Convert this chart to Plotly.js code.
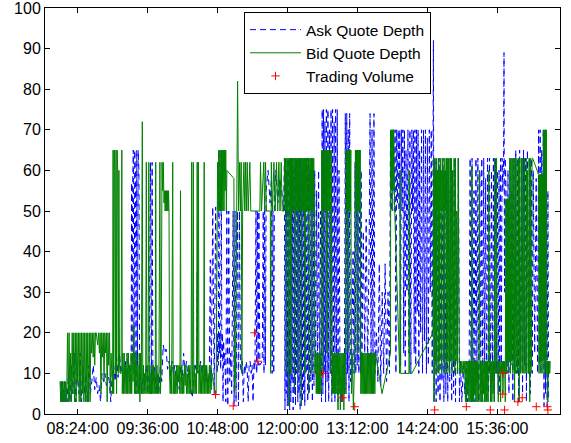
<!DOCTYPE html>
<html>
<head>
<meta charset="utf-8">
<script src="https://cdn.plot.ly/plotly-3.0.1.min.js"></script>
<style>html,body{margin:0;padding:0;background:#fff;}#chart{width:571px;height:443px;}</style>
</head>
<body>
<div id="chart"></div>
<script>
// time in minutes after midnight, depth values
var tickTimes = [504, 576, 648, 720, 792, 864, 936];
var tickLabels = ['08:24:00', '09:36:00', '10:48:00', '12:00:00', '13:12:00', '14:24:00', '15:36:00'];
var depthTicks = [0, 10, 20, 30, 40, 50, 60, 70, 80, 90, 100];

var askTime = [
486.5,487.2,487.9,488.6,489.3,490,490.7,491.4,492.1,
493,494.5,496,497.5,499,500.5,502,503.5,505,506.5,508,509.5,511,512.5,514,515.5,517,
518.5,520,521.5,523,524.5,526,527.5,529,530.5,532,533.5,535,536.5,538,539.5,
541,542.5,544,545.5,547,548.5,550,551.5,553,554.5,556,557.5,559,
559.5,560,560.5,561.2,562,562.7,563.4,564,564.8,565.5,566.2,567,567.8,
568.5,570,571.5,573,574.5,576,577.5,
579,579.8,580.6,581.4,
583,584.5,586,587.5,589,590.5,592,593.5,595,596.5,598,599.5,601,602.5,604,605.5,607,608.5,610,611.5,613,614.5,616,617.5,619,620.5,622,623.5,625,626.5,627,627.5,629,
630.5,632,633.5,635,636.5,638,639.5,640.5,641.5,643,644.5,646,647.5,
648.2,648.8,649.4,650,650.6,651.2,651.8,652.4,653,653.6,654.2,654.8,
655.5,656.5,657.5,658.5,659.5,660.5,661.5,662.5,664,665,666,667,668.5,669.5,670.5,671.5,
672.5,673.5,674.5,675.5,676.5,677.5,678.5,679.5,680.5,681.5,682.5,683.5,684.5,685.5,686.5,
687.5,688.3,689,689.8,690.5,691.5,694,695,695.8,696.5,697.3,
698,700,702,703.5,704.2,705,705.8,706.5,708,710,712,714,716,
716.8,717.4,718,718.6,719.2,719.8,720.4,721,721.6,722.2,722.8,723.4,724,724.6,725.2,725.8,726.4,727,727.6,728.2,728.8,729.4,730,730.6,731.2,731.8,732.4,733,733.6,734.2,734.8,735.4,736,736.6,737.2,737.8,738.4,739.2,740,740.8,741.6,742.4,743.2,744,744.8,745.6,746.4,
747.2,748,749,750,751,752,753,754,
755,755.7,756.4,757.1,757.8,758.5,759.2,760,760.8,761.6,762.4,763.2,764,764.8,765.6,766.4,767.2,768,768.8,769.6,770.4,771.2,772,773,
774,775.5,777,778.5,
779.5,780.3,781,781.8,782.5,783.3,784,784.8,
786,787.5,788.5,
789.5,790.3,791,791.8,792.6,793.4,794.2,795,795.8,796.6,
798,799.5,801,802.5,804,
805,806,807,808,809,810,
811.5,813,814.5,816,817.5,819,820.5,822,823.5,
825,826,826.8,827.6,828.4,829.2,830,830.8,831.6,832.4,833.2,834,834.8,835.6,836.4,837.2,838,838.8,839.6,
840.4,841.2,842,843,844,845,846,847,848,848.8,849.6,850.4,851.2,852,852.8,853.6,854.4,855.2,856,857,858,859,860,861,862,863,864,865,866,867,868,
869,870.2,871,
872,873,874,875,876,877,878,879,880,881,882,883,884,885,886,887,888,889,890,891,892,893,894,895,896,897,
898,899.5,901,902.5,904,905.5,907,
908,909,910,911,912,913,914,915,916,917,918,919,920,921,922,923,924,925,926,927,928,929,930,931,932,933,934,935,936,937,937.8,
938.5,939.3,940.1,940.9,941.7,942.5,942.9,943.4,944.2,
945,946,947,948,949,950,951,952,953,954,
955,956,957,958,959,960,961,962,963,964,965,966,967,968,969,970,971,972,
973,974.5,976,977.5,
978.5,979.3,980.1,980.9,981.7,982.5,983.3,
984.1,984.9,985.7,986.5,987.3,988.1,988.8
];
var askDepth = [
8,3,8,3,6,3,8,3,5,
3,10,3,12,5,15,3,10,5,15,3,12,5,10,3,12,5,
8,12,6,9,5,7,3,10,8,10,7,10,8,3,10,
12,8,14,9,15,10,12,7,13,9,15,8,12,
57,15,55,65,10,65,60,5,65,12,65,60,5,
10,5,11,6,12,5,10,
62,5,62,8,
12,6,10,5,12,8,17,15,16,11,13,9,13,10,12,7,10,6,12,8,15,10,13,9,11,6,4,9,12,10,35,12,10,
13,10,12,8,12,6,10,38,8,51,5,51,10,
20,12,65,15,20,11,65,14,20,3,18,12,
15,3,50,2,50,8,15,5,50,2,50,3,50,2,50,12,
10,13,3,12,10,13,11,3,12,13,10,12,3,13,11,
50,10,50,12,50,12,13,50,10,50,12,
55,60,52,58,10,50,10,55,60,52,58,55,50,
63,1,63,5,60,2,63,10,63,1,55,3,63,8,63,1,60,5,63,2,63,10,63,3,58,5,63,1,63,8,63,3,60,5,63,2,63,10,63,3,63,5,60,8,63,3,60,
7,60,10,55,8,60,5,50,
3,75,5,75,10,72,3,75,8,75,3,70,10,75,3,75,5,72,3,75,10,75,3,60,
10,3,12,5,
74,5,74,10,70,3,74,8,
12,40,10,
62,10,65,12,62,10,65,10,60,12,
45,15,48,12,40,
74,10,70,12,74,10,
20,8,37,7,30,10,37,8,30,
10,70,50,70,55,70,50,70,10,70,52,70,50,70,12,70,50,70,15,
70,10,65,30,70,15,70,10,70,50,70,15,70,12,70,25,70,10,65,20,70,10,70,18,70,10,68,12,70,30,70,
10,92,3,
63,3,60,5,63,3,50,8,63,3,60,5,63,3,55,8,63,3,60,5,63,3,50,10,63,3,
13,3,12,5,13,3,12,
63,3,63,5,55,3,63,8,63,3,60,5,63,3,63,10,58,3,63,5,63,3,60,8,63,3,63,10,60,5,60,
5,63,10,63,55,63,89,30,63,
55,10,60,5,63,12,55,3,63,10,
65,10,63,3,65,10,63,5,65,12,63,3,65,10,63,5,63,10,
60,15,58,10,
70,12,70,10,65,15,70,
2,63,5,60,2,55,3
];

var bidTime = [
485.8,486.5,487.2,487.9,488.6,489.3,490,490.7,491.4,492.1,492.8,
493.5,494.3,495.1,495.9,496.7,497.5,498.3,499.1,499.9,500.7,501.5,502.3,503.1,503.9,504.7,505.5,506.3,507.1,507.9,508.7,509.5,510.3,511.1,511.9,512.7,513.5,514.3,515.1,515.9,516.7,517.5,
518.3,519.1,519.9,520.7,521.5,522.3,523.1,524.5,525.5,526.3,527.1,527.9,528.7,529.5,530.3,531.1,531.9,532.7,533.5,534.3,535.1,535.9,536.7,537.5,538.3,539.1,539.9,
540.4,541,541.6,542.2,542.8,543.4,544,544.6,545.2,545.8,546.4,547,547.6,548.6,549.4,549.9,
550.5,551.2,551.9,552.6,553.3,554,554.7,555.4,556.1,556.8,557.5,558.2,558.9,559.6,560.3,561,561.7,562.4,563.1,563.8,564.5,565.2,565.9,566.6,567.3,568,568.7,569.4,
570.5,571,571.6,572.2,572.8,573.4,574,574.6,575.2,575.8,576.4,577.2,577.7,578.3,578.9,579.5,580.1,580.7,581.3,582,582.6,583.2,583.8,584.3,584.9,585.6,586.2,586.9,587.5,588.6,589.2,589.9,590.8,591.4,592.1,592.8,593.5,594,594.5,595,595.5,596,596.5,597,597.5,598,598.5,599.2,600,600.7,601.8,602.3,
603,603.6,604.3,605,605.7,606.4,607.1,607.8,608.5,609.2,609.8,610.4,611.1,611.8,612.5,613.2,613.9,614.6,615.3,616,616.7,617.4,618.1,618.8,619.5,
620.2,620.8,621.3,621.8,622.4,623,623.5,624.2,624.9,625.6,626.3,627,627.5,628.3,628.8,629.5,630.2,630.9,631.6,632.3,633,633.7,634.2,634.7,635.4,636.1,
636.8,637.5,638.2,638.9,639.6,640.3,641,641.7,642.4,643.5,645.5,646.5,647.4,648,648.6,649.2,649.8,650.4,651,651.6,652.2,652.8,653.4,654,654.6,655.2,655.8,656.4,657,657.6,664.8,665.4,666.5,668.6,669.6,
670.7,671.5,672.3,673,673.8,675.1,676,676.8,677.6,678.5,679.5,681.2,682.2,691.5,692.2,693.2,695.6,696.5,697.4,698.2,702.3,702.6,703,703.3,704.5,706,707.3,708.7,709.9,711.1,712.3,713.5,714.5,716.3,
717,717.6,718.2,718.8,719.4,720,720.6,721.2,721.8,722.4,723,723.6,724.2,724.8,725.4,726,726.6,727.2,727.8,728.4,729,729.6,730.2,730.8,731.4,732,732.6,733.2,733.8,734.4,735,735.6,736.2,736.8,737.4,738,738.6,739.2,739.8,740.4,741,741.6,742.2,742.8,743.4,744,744.6,745.2,745.8,746.4,747,747.6,
748.3,749,749.6,750.2,750.8,751.4,752,752.6,753.2,753.8,754.4,
755.2,755.8,756.4,757,757.6,758.2,758.8,759.4,760,760.6,761.2,761.8,762.4,763,763.6,764.2,764.8,765.4,766,
766.6,767.2,767.8,768.4,769,769.6,770.2,770.8,771.4,772,772.6,773.2,773.8,774.4,775,775.6,776.2,776.8,777.4,778,778.6,779.2,779.8,
780.4,781,781.6,782.2,782.8,783.4,784,784.6,785.2,785.8,
786.6,787.8,789.2,
789.9,790.4,790.9,791.4,791.9,792.4,792.9,793.4,793.9,794.4,794.9,
795.5,796.1,796.7,797.3,797.9,798.5,799.1,799.7,800.3,800.9,801.5,802.1,802.7,803.3,803.9,804.5,805.1,805.7,806.3,806.9,807.5,808.1,808.7,809.3,809.9,810.6,
817.3,826,826.3,826.8,827.3,827.8,828.3,828.8,829.3,830.2,835.5,836,836.5,845,845.3,845.8,848,
869.8,870.3,870.8,871.3,871.8,872.3,872.8,873.3,873.8,874.3,874.8,875.3,875.8,876.3,876.8,877.3,877.8,878.3,878.8,879.3,879.8,880.3,880.8,881.3,881.8,882.3,882.8,883.3,883.8,884.5,885.2,885.9,886.6,887.3,888,888.7,889.4,890.1,890.8,891.5,892.2,892.9,893.6,894.3,895,895.7,896.4,
897,897.8,898.6,899.4,900.2,901,901.8,902.6,
903.2,903.8,904.4,905,905.6,906.2,906.8,907.4,908,908.6,909.2,909.8,910.4,911,911.6,912.2,912.8,913.4,914,914.6,915.2,915.8,916.4,917,917.6,918.2,918.8,919.4,920,920.6,921.2,921.8,922.4,923,923.6,924.2,924.8,925.4,926,926.6,927.3,928,928.6,929.2,929.8,930.4,931,931.6,932.2,932.8,933.4,934,934.6,935.2,935.8,936.4,937,937.6,938.2,
938.8,939.4,940,940.6,941.2,941.8,942.4,943,943.6,944.2,
944.8,945.3,945.8,946.3,946.8,947.3,947.8,948.3,
949,949.6,950.2,950.8,951.4,952,952.6,953.2,953.8,954.4,955,955.6,956.2,956.8,957.4,958,958.6,959.2,959.8,960.4,961,961.6,962.2,962.8,963.4,964,964.6,965.2,965.8,966.4,967,967.6,968.2,968.8,969.4,970,970.6,971.2,971.8,972.4,
978.5,979,979.5,980,980.5,981,981.5,982,982.5,983,983.5,984,984.5,985,985.5,986,986.5,987,987.5,988,988.5,989,989.5,990,990.5
];
var bidDepth = [
8,3,8,3,8,3,8,3,8,3,8,
20,3,20,3,15,3,20,5,20,3,20,3,20,8,20,3,20,3,20,5,20,3,20,3,20,3,20,3,20,3,20,
15,20,14,20,12,20,20,17,20,15,20,5,20,14,20,8,20,15,20,3,20,12,20,5,15,8,5,
65,5,65,60,10,65,5,65,60,10,60,12,10,10,65,5,
15,5,15,5,12,5,15,5,15,5,12,5,15,5,15,8,22,5,15,5,15,5,12,5,15,3,15,5,
72,5,12,5,10,5,12,62,5,12,5,62,5,12,5,10,5,12,5,12,5,10,5,62,5,12,5,10,5,62,5,12,62,55,62,52,55,50,55,50,55,50,55,50,55,50,10,5,12,5,62,5,
12,5,10,5,12,5,12,8,12,5,55,5,12,5,10,5,12,7,12,5,10,5,12,5,12,
5,12,62,5,12,62,5,12,5,10,5,62,10,62,5,12,5,12,5,12,5,10,62,5,12,5,
12,5,10,5,12,5,12,6,10,8,5,5,50,62,50,65,50,65,50,65,50,65,50,65,50,65,55,65,50,60,58,5,10,82,50,
62,50,62,10,50,62,50,62,50,62,50,62,50,50,62,50,62,50,62,50,50,10,50,62,50,62,50,62,50,62,50,62,50,50,
63,50,63,10,63,50,63,2,63,50,63,10,63,50,63,50,63,5,63,50,63,50,63,10,63,50,63,50,63,2,63,50,63,50,63,10,63,50,63,50,63,5,63,50,63,50,63,10,63,50,63,50,
10,15,5,15,5,15,5,15,5,15,5,
65,50,65,10,65,50,65,50,65,15,65,50,65,50,65,10,65,50,5,
15,5,15,5,15,5,15,5,15,1,15,5,15,1,15,5,15,5,15,1,15,5,15,
65,50,65,15,65,50,65,50,65,5,
15,1,15,
65,50,65,50,65,15,65,50,65,50,65,
5,15,5,15,5,15,5,15,5,15,5,15,5,15,5,15,5,15,5,15,5,15,5,15,5,15,
5,15,70,55,70,50,70,55,70,52,10,60,10,10,60,10,10,
20,63,3,63,10,60,13,63,10,60,50,63,10,60,13,63,50,60,10,63,50,60,13,63,10,60,50,63,10,63,13,63,10,63,13,63,10,60,13,63,10,63,13,50,10,63,13,
10,13,10,13,10,13,10,13,
3,13,3,13,5,13,3,13,3,13,3,61,3,13,3,13,5,13,3,13,3,13,3,13,60,3,13,3,13,3,13,5,13,3,13,3,13,3,13,3,60,10,13,3,13,3,13,5,13,3,63,10,13,63,10,13,3,13,10,
13,3,13,10,13,5,13,10,13,3,
53,10,53,13,53,10,53,13,
63,10,63,13,63,10,13,63,3,63,10,13,63,10,13,63,3,63,10,13,63,10,63,13,10,63,10,13,63,10,60,13,10,63,3,63,10,13,63,63,
59,10,59,13,59,10,59,13,59,10,70,13,70,10,70,13,70,10,13,3,13,10,13,10,13
];

var tradeTime = [645.9, 664.1, 686.1, 689.5, 756.6, 776.6, 789.2, 871.5, 904.1, 928.8, 941.8, 941.6, 943.5, 957.2, 961.7, 976.1, 987.5, 988.1];
var tradeVolume = [4.8, 2, 20, 13, 10, 4, 1.8, 1, 1.8, 1, 10, 4.9, 1, 3, 4, 1.8, 1.8, 1];

var traces = [
  {x: askTime, y: askDepth, type: 'scatter', mode: 'lines', name: 'Ask Quote Depth',
   line: {color: 'rgb(0,0,255)', width: 1, dash: '6px,4px'}},
  {x: bidTime, y: bidDepth, type: 'scatter', mode: 'lines', name: 'Bid Quote Depth',
   line: {color: 'rgb(0,128,0)', width: 1}},
  {x: tradeTime, y: tradeVolume, type: 'scatter', mode: 'markers', name: 'Trading Volume',
   marker: {symbol: 'cross-thin-open', size: 6, color: 'rgb(255,0,0)', line: {width: 1, color: 'rgb(255,0,0)'}}}
];

var axisStyle = {
  showline: true, mirror: 'ticks', linecolor: '#000', linewidth: 1,
  ticks: 'inside', ticklen: 5, tickcolor: '#000', tickwidth: 1,
  showgrid: false, zeroline: false, ticklabeloverflow: 'allow'
};

var layout = {
  width: 571, height: 443,
  margin: {l: 45, r: 11, t: 8, b: 29, pad: 0},
  paper_bgcolor: '#fff', plot_bgcolor: '#fff',
  font: {family: '"Liberation Sans", Arial, sans-serif', size: 16, color: '#000'},
  xaxis: Object.assign({}, axisStyle, {range: [470.3, 1000.55], tickmode: 'array', tickvals: tickTimes, ticktext: tickLabels}),
  yaxis: Object.assign({}, axisStyle, {range: [0, 100], tickmode: 'array', tickvals: depthTicks}),
  showlegend: true,
  legend: {x: 0.3864, y: 0.99, xanchor: 'left', yanchor: 'top', bgcolor: '#fff',
           bordercolor: '#000', borderwidth: 1, font: {size: 15.5}, itemwidth: 51}
};

Plotly.newPlot('chart', traces, layout, {displayModeBar: false, staticPlot: true}).then(function () {
  if (askTime.length !== askDepth.length) throw new Error('ask ' + askTime.length + ' ' + askDepth.length);
  if (bidTime.length !== bidDepth.length) throw new Error('bid ' + bidTime.length + ' ' + bidDepth.length);
});
</script>
</body>
</html>
